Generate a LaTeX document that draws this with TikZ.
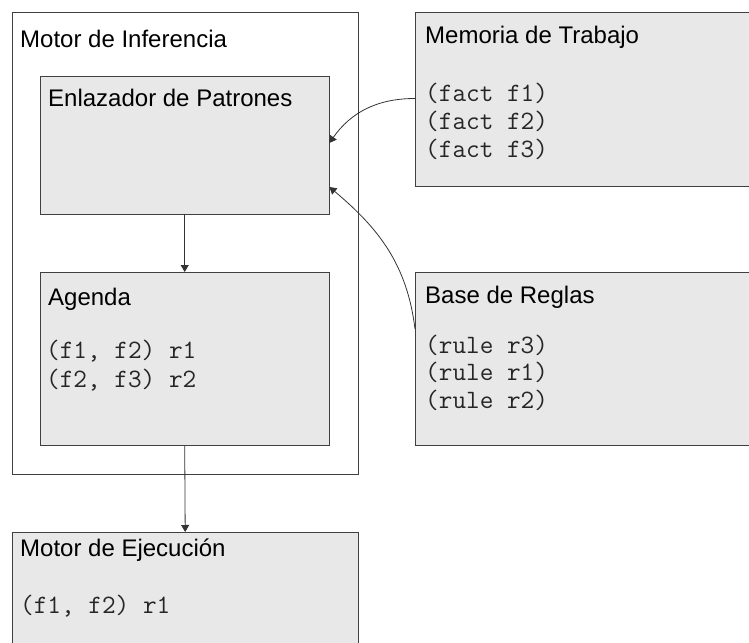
\documentclass[tikz,border=0pt]{standalone}
\usepackage{fontspec}
\setmainfont{Liberation Sans}
\usetikzlibrary{calc}
\usetikzlibrary{positioning}
\usetikzlibrary{arrows.meta}
\usetikzlibrary{shadows}

\tikzset{
	panel/.style={draw=black!75,fill=black!9,anchor=north west,inner sep=0pt,
		drop shadow={shadow xshift=1.2bp,shadow yshift=-1.2bp,fill=black!45,opacity=1}},
	frame/.style={panel,fill=white},
	title/.style={anchor=base west,inner sep=0pt,font=\fontsize{24bp}{28bp}\selectfont},
	code/.style={anchor=base west,inner sep=0pt,text=black!85,font=\fontsize{26.5bp}{28bp}\ttfamily},
	flow/.style={draw=black!80,line width=0.8bp,-{Triangle[length=7bp,width=8bp]}},
}

\begin{document}
\begin{tikzpicture}[x=1bp,y=-1bp]
	\useasboundingbox (0,0) rectangle (749,643);
	\clip (0,0) rectangle (749,643);
	
	% the inference engine and its two parts
	\node[frame,minimum width=346bp,minimum height=461bp] (inf) at (12,12.5) {};
	\node[panel,minimum width=289bp,minimum height=138bp] (enl) at (40,76) {};
	\node[panel,minimum width=289bp,minimum height=173bp] (agenda) at (40,272) {};
	
	% working memory, rule base and the executor
	\node[panel,minimum width=350bp,minimum height=173bp] (mem) at (415,12.5) {};
	\node[panel,minimum width=350bp,minimum height=173bp] (base) at (415,272) {};
	\node[panel,minimum width=346bp,minimum height=140bp] (exec) at (12,532) {};
	
	\node[title] (inf title) at ($(inf.north west)+(8,35)$) {Motor de Inferencia};
	\node[title] (enl title) at ($(enl.north west)+(8,31)$) {Enlazador de Patrones};
	\node[title] (agenda title) at ($(agenda.north west)+(8,33)$) {Agenda};
	\node[title] (mem title) at ($(mem.north west)+(10,31)$) {Memoria de Trabajo};
	\node[title] (base title) at ($(base.north west)+(10,31)$) {Base de Reglas};
	\node[title] (exec title) at ($(exec.north west)+(8,24)$) {Motor de Ejecución};
	
	\foreach \t [count=\i from 0] in {(fact f1),(fact f2),(fact f3)}
		\node[code] (mem l\i) at ($(mem.north west)+(10,89+28*\i)$) {\t};
	\foreach \t [count=\i from 0] in {(rule r3),(rule r1),(rule r2)}
		\node[code] (base l\i) at ($(base.north west)+(10,81+27.5*\i)$) {\t};
	\foreach \t [count=\i from 0] in {{(f1, f2) r1},{(f2, f3) r2}}
		\node[code] (agenda l\i) at ($(agenda.north west)+(6,86+29*\i)$) {\t};
	\node[code] (exec l0) at ($(exec.north west)+(8,81)$) {(f1, f2) r1};
	
	% connectors
	\coordinate (mem out) at ($(mem.north west)+(0,86)$);
	\coordinate (base out) at ($(base.north west)+(0,57)$);
	\coordinate (enl in1) at ($(enl.north east)+(0,67)$);
	\coordinate (enl in2) at ($(enl.north east)+(0,111)$);
	\draw[flow] (mem out) to[out=180,in=55] (enl in1);
	\draw[flow] (base out) to[out=97,in=-40] (enl in2);
	\draw[flow] (enl.south) -- (agenda.north);
	\draw[flow] (agenda.south) -- (exec.north);
	
\end{tikzpicture}
\end{document}
